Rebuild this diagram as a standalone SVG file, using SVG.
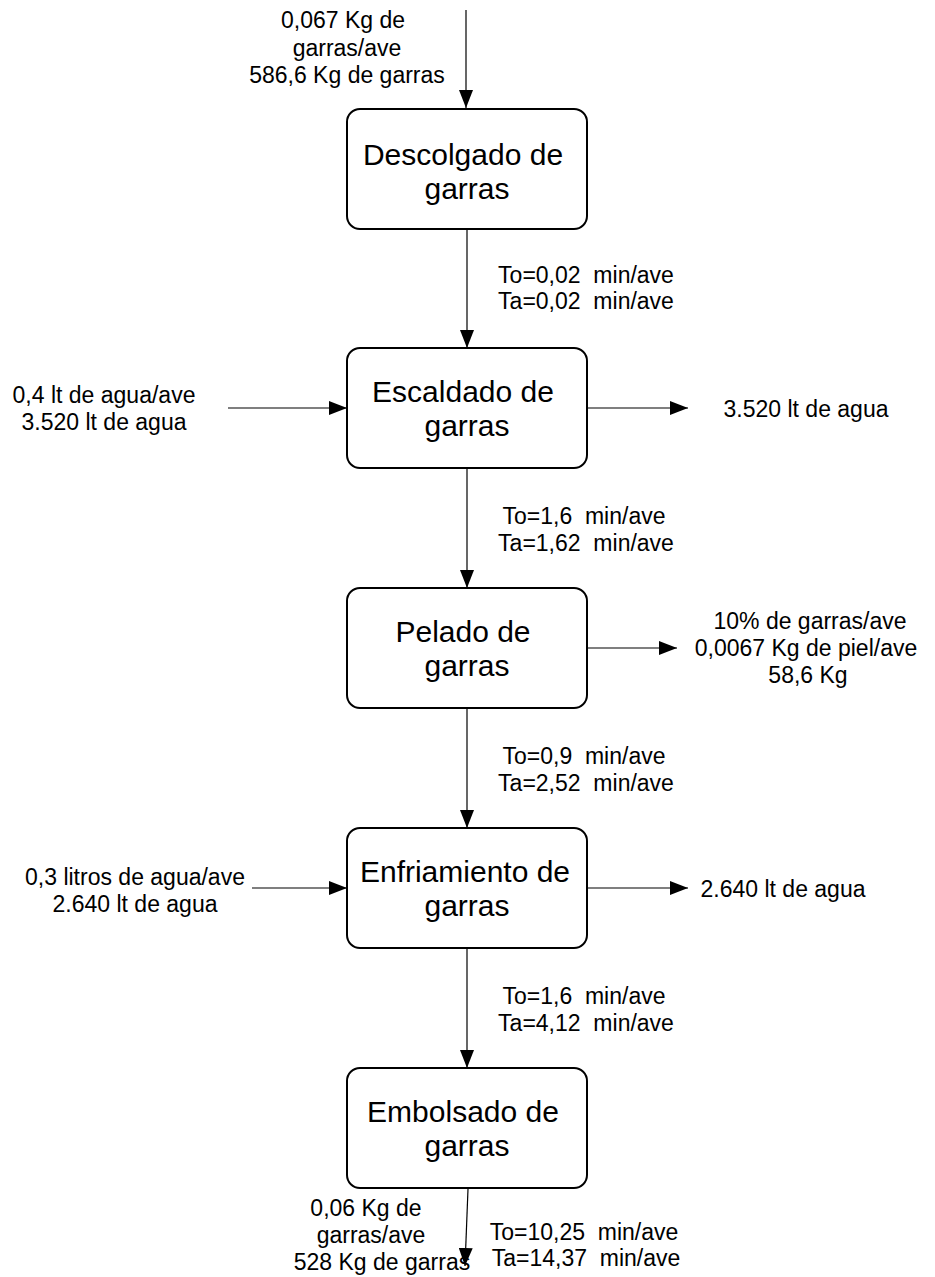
<svg xmlns="http://www.w3.org/2000/svg" width="935" height="1277" viewBox="0 0 935 1277">
  <style>
    .box { fill: #ffffff; stroke: #000000; stroke-width: 2; }
    .edge { fill: none; stroke: #000000; stroke-width: 1.2; }
    .title { font-family: "Liberation Sans", Arial, sans-serif; font-size: 30px; fill: #000000; text-anchor: middle; }
    .lbl { font-family: "Liberation Sans", Arial, sans-serif; font-size: 23px; fill: #000000; text-anchor: middle; white-space: pre; }
  </style>
  <defs>
    <marker id="arrow" viewBox="0 0 18 14" refX="18" refY="7" markerWidth="18" markerHeight="14" markerUnits="userSpaceOnUse" orient="auto">
      <path d="M0,0 L18,7 L0,14 Z" fill="#000000"/>
    </marker>
  </defs>
  <rect width="935" height="1277" fill="#ffffff"/>

  <!-- connectors -->
  <g id="connectors">
    <line class="edge" x1="466" y1="10" x2="466" y2="108" marker-end="url(#arrow)"/>
    <line class="edge" x1="467" y1="229" x2="467" y2="348" marker-end="url(#arrow)"/>
    <line class="edge" x1="467" y1="469" x2="467" y2="588" marker-end="url(#arrow)"/>
    <line class="edge" x1="467" y1="709" x2="467" y2="828" marker-end="url(#arrow)"/>
    <line class="edge" x1="467" y1="949" x2="467" y2="1068" marker-end="url(#arrow)"/>
    <line class="edge" x1="468" y1="1189" x2="465" y2="1266" marker-end="url(#arrow)"/>
    <line class="edge" x1="228" y1="408" x2="347" y2="408" marker-end="url(#arrow)"/>
    <line class="edge" x1="588" y1="408" x2="688" y2="408" marker-end="url(#arrow)"/>
    <line class="edge" x1="588" y1="648" x2="677" y2="648" marker-end="url(#arrow)"/>
    <line class="edge" x1="252" y1="888" x2="347" y2="888" marker-end="url(#arrow)"/>
    <line class="edge" x1="588" y1="888" x2="688" y2="888" marker-end="url(#arrow)"/>
  </g>

  <!-- process steps -->
  <g id="descolgado">
    <rect class="box" x="347" y="109" width="240" height="120" rx="13"/>
    <text class="title" x="463" y="165">Descolgado de</text>
    <text class="title" x="467" y="199">garras</text>
  </g>
  <g id="escaldado">
    <rect class="box" x="347" y="348" width="240" height="120" rx="13"/>
    <text class="title" x="463" y="402">Escaldado de</text>
    <text class="title" x="467" y="436">garras</text>
  </g>
  <g id="pelado">
    <rect class="box" x="347" y="588" width="240" height="120" rx="13"/>
    <text class="title" x="463" y="642">Pelado de</text>
    <text class="title" x="467" y="676">garras</text>
  </g>
  <g id="enfriamiento">
    <rect class="box" x="347" y="828" width="240" height="120" rx="13"/>
    <text class="title" x="465" y="882">Enfriamiento de</text>
    <text class="title" x="467" y="916">garras</text>
  </g>
  <g id="embolsado">
    <rect class="box" x="347" y="1068" width="240" height="120" rx="13"/>
    <text class="title" x="463" y="1122">Embolsado de</text>
    <text class="title" x="467" y="1156">garras</text>
  </g>

  <!-- flow annotations -->
  <g id="entrada-garras">
    <text class="lbl" x="343" y="28">0,067 Kg de</text>
    <text class="lbl" x="347" y="56">garras/ave</text>
    <text class="lbl" x="347" y="83">586,6 Kg de garras</text>
  </g>
  <g id="tiempo-1">
    <text class="lbl" x="586" y="283">To=0,02  min/ave</text>
    <text class="lbl" x="586" y="309">Ta=0,02  min/ave</text>
  </g>
  <g id="agua-entrada-1">
    <text class="lbl" x="104" y="403">0,4 lt de agua/ave</text>
    <text class="lbl" x="104" y="430">3.520 lt de agua</text>
  </g>
  <g id="agua-salida-1">
    <text class="lbl" x="806" y="417">3.520 lt de agua</text>
  </g>
  <g id="tiempo-2">
    <text class="lbl" x="584" y="524">To=1,6  min/ave</text>
    <text class="lbl" x="586" y="551">Ta=1,62  min/ave</text>
  </g>
  <g id="piel-salida">
    <text class="lbl" x="810" y="629">10% de garras/ave</text>
    <text class="lbl" x="806" y="656">0,0067 Kg de piel/ave</text>
    <text class="lbl" x="808" y="683">58,6 Kg</text>
  </g>
  <g id="tiempo-3">
    <text class="lbl" x="584" y="764">To=0,9  min/ave</text>
    <text class="lbl" x="586" y="791">Ta=2,52  min/ave</text>
  </g>
  <g id="agua-entrada-2">
    <text class="lbl" x="135" y="885">0,3 litros de agua/ave</text>
    <text class="lbl" x="135" y="912">2.640 lt de agua</text>
  </g>
  <g id="agua-salida-2">
    <text class="lbl" x="783" y="897">2.640 lt de agua</text>
  </g>
  <g id="tiempo-4">
    <text class="lbl" x="584" y="1004">To=1,6  min/ave</text>
    <text class="lbl" x="586" y="1031">Ta=4,12  min/ave</text>
  </g>
  <g id="salida-garras">
    <text class="lbl" x="366" y="1216">0,06 Kg de</text>
    <text class="lbl" x="371" y="1243">garras/ave</text>
    <text class="lbl" x="382" y="1270">528 Kg de garras</text>
  </g>
  <g id="tiempo-5">
    <text class="lbl" x="584" y="1240">To=10,25  min/ave</text>
    <text class="lbl" x="586" y="1266">Ta=14,37  min/ave</text>
  </g>
</svg>
